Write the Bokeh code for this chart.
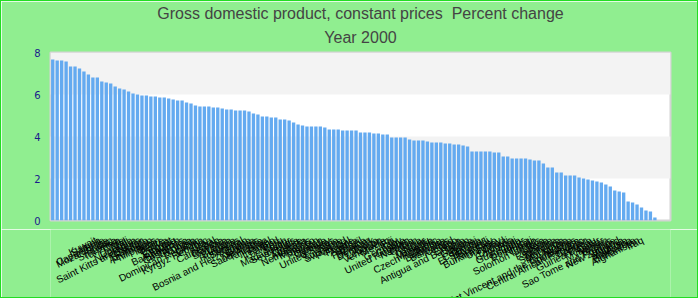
from bokeh.plotting import figure
from bokeh.layouts import column
from bokeh.models import ColumnDataSource, Title, FixedTicker, Range1d
from bokeh.core.properties import value
from bokeh.embed import file_html
from bokeh.resources import INLINE

countries = [
    "Kuwait", "Samoa", "Cape Verde", "Mozambique", "Sudan", "Sri Lanka", "Tanzania",
    "Chile", "Mali", "Uganda", "Nicaragua", "Saint Kitts and Nevis", "Bhutan", "Rwanda",
    "Azerbaijan", "Philippines", "Benin", "Belize", "Bolivia", "Egypt", "Ethiopia",
    "Bangladesh", "Bahamas", "Costa Rica", "Georgia", "Tunisia", "Dominican Republic",
    "Ghana", "Kyrgyz Republic", "Iran", "Nepal", "Cameroon", "Gambia", "Slovenia",
    "Latvia", "Bulgaria", "Honduras", "Senegal", "Oman", "Bosnia and Herzegovina",
    "Guinea", "Mauritius", "Saudi Arabia", "Tajikistan", "Israel", "Lesotho",
    "Thailand", "Peru", "Spain", "Madagascar", "Seychelles", "Malta", "Greece",
    "Australia", "Netherlands", "Morocco", "Jordan", "Pakistan", "Canada", "Norway",
    "United States", "Syria", "Suriname", "Swaziland", "Portugal", "France", "Austria",
    "Brazil", "Panama", "Belgium", "Denmark", "Tonga", "Lebanon", "Venezuela", "Mexico",
    "Fiji", "Italy", "Germany", "Croatia", "United Kingdom", "Namibia", "Gabon", "Kenya",
    "Niger", "Vanuatu", "Mongolia", "Czech Republic", "Zambia", "Botswana", "Barbados",
    "Iceland", "Togo", "Eritrea", "Antigua and Barbuda", "Japan", "Guyana", "Brunei",
    "Colombia", "El Salvador", "Burundi", "Paraguay", "Burkina Faso", "Uruguay", "Chad",
    "Djibouti", "Comoros", "Haiti", "Guatemala", "Ecuador", "Dominica", "Kiribati",
    "Congo", "Solomon Islands", "Libya", "Liberia", "Romania", "Jamaica", "Moldova",
    "Saint Lucia", "Mauritania", "Nigeria", "Saint Vincent and the Grenadines",
    "South Africa", "Central African Republic", "Bahrain", "Angola", "Guinea-Bissau",
    "Qatar", "Myanmar", "Yemen", "Cyprus", "Sao Tome and Principe", "New Zealand",
    "Algeria", "Malaysia", "Argentina", "Zimbabwe", "Afghanistan", "Iraq",
]

growth = [
    7.67, 7.62, 7.62, 7.57, 7.33, 7.33, 7.24, 7.10, 6.95, 6.81, 6.81, 6.62, 6.57, 6.52,
    6.38, 6.29, 6.24, 6.14, 6.05, 6.00, 5.95, 5.95, 5.90, 5.90, 5.86, 5.86, 5.81,
    5.76, 5.71, 5.71, 5.62, 5.57, 5.48, 5.43, 5.43, 5.43, 5.38, 5.38, 5.33, 5.29, 5.29,
    5.24, 5.24, 5.24, 5.19, 5.10, 5.05, 4.95, 4.95, 4.90, 4.90, 4.81, 4.81, 4.76,
    4.67, 4.57, 4.52, 4.48, 4.48, 4.48, 4.48, 4.43, 4.33, 4.33, 4.33, 4.29, 4.29, 4.29,
    4.29, 4.19, 4.19, 4.19, 4.14, 4.14, 4.10, 4.10, 3.95, 3.95, 3.95, 3.95, 3.86, 3.81,
    3.81, 3.81, 3.76, 3.71, 3.71, 3.71, 3.67, 3.67, 3.62, 3.62, 3.57, 3.52, 3.29, 3.29,
    3.29, 3.29, 3.29, 3.24, 3.24, 3.05, 3.05, 2.95, 2.95, 2.95, 2.95, 2.90, 2.86, 2.86,
    2.71, 2.52, 2.52, 2.29, 2.29, 2.14, 2.14, 2.14, 2.05, 2.00, 1.95, 1.90, 1.86, 1.81,
    1.71, 1.62, 1.43, 1.38, 1.33, 0.90, 0.86, 0.76, 0.62, 0.48, 0.43, 0.14,
    0.0, 0.0, 0.0,
]

y_ticks = [0, 2, 4, 6, 8]
title_main = "Gross domestic product, constant prices \u00a0Percent change"
title_sub = "Year 2000"

GREEN_BG = "#90EE90"
EDGE = "1px solid #22dd22"

# ---- layout constants (pixels) ----
W = 698
TOP_H = 229
BOT_H = 69
LEFT = 49
RIGHT = 29
LABEL_DROP = 10
n = len(countries)
frame_w = W - LEFT - RIGHT
pitch = frame_w / n          # px per category inside the bar frame

src = ColumnDataSource(dict(country=countries, growth=growth))

p = figure(width=W, height=TOP_H, x_range=countries, y_range=(0, 8),
           output_backend="svg", toolbar_location=None, title=None,
           x_axis_location=None,
           min_border_left=LEFT, min_border_right=RIGHT, min_border_bottom=10,
           min_border_top=51)

p.add_layout(Title(text=title_sub, align="center", vertical_align="top",
                   text_font="Liberation Sans", text_font_size="16px",
                   text_font_style="normal", text_color="#444444", standoff=10), "above")
p.add_layout(Title(text=title_main, align="center", text_font="Liberation Sans",
                   text_font_size="16px", text_font_style="normal",
                   text_color="#444444", standoff=3), "above")

p.vbar(x="country", top="growth", width=0.75, source=src,
       fill_color="#64aaf0", line_color=None)

p.background_fill_color = "white"
p.border_fill_color = GREEN_BG
p.outline_line_color = "#d4d4d4"
p.outline_line_width = 2

p.ygrid.ticker = FixedTicker(ticks=y_ticks)
p.ygrid.grid_line_color = None
p.ygrid.band_fill_color = "#f3f3f3"
p.ygrid.band_fill_alpha = 1
p.xgrid.grid_line_color = None

p.yaxis.ticker = FixedTicker(ticks=y_ticks)
p.yaxis.axis_line_color = None
p.yaxis.major_tick_line_color = None
p.yaxis.minor_tick_line_color = None
p.yaxis.major_tick_out = 0
p.yaxis.minor_tick_out = 0
p.yaxis.major_label_text_color = "#1a1a8c"
p.yaxis.major_label_text_font = "DejaVu Sans"
p.yaxis.major_label_text_font_size = "10px"
p.yaxis.major_label_standoff = 10

p.styles = {"border-top": EDGE, "border-left": EDGE, "border-right": EDGE}

# ---- category labels: a strip below, sharing the same category spacing ----
x0 = -LEFT / pitch
lab_src = ColumnDataSource(dict(pos=[i + 0.5 for i in range(n)],
                                yy=[-LABEL_DROP] * n, name=countries))

p2 = figure(width=W, height=BOT_H, x_range=Range1d(x0, x0 + W / pitch),
            y_range=Range1d(-BOT_H, 0), output_backend="svg", toolbar_location=None,
            x_axis_location=None, y_axis_location=None, min_border=0)
p2.grid.visible = False
p2.outline_line_color = None
p2.background_fill_color = GREEN_BG
p2.border_fill_color = GREEN_BG
p2.text(x="pos", y="yy", text="name", source=lab_src, angle=0.46,
        text_align="right", text_baseline="middle",
        text_font=value("Liberation Sans"), text_font_size=value("10px"),
        text_color="black")
p2.styles = {"border-bottom": EDGE, "border-left": EDGE, "border-right": EDGE}

layout = column(p, p2, spacing=0)

html = file_html(layout, INLINE)
html = html.replace("<body>", '<body style="margin:0;background-color:#90EE90">', 1)
open("out.html", "w").write(html)
